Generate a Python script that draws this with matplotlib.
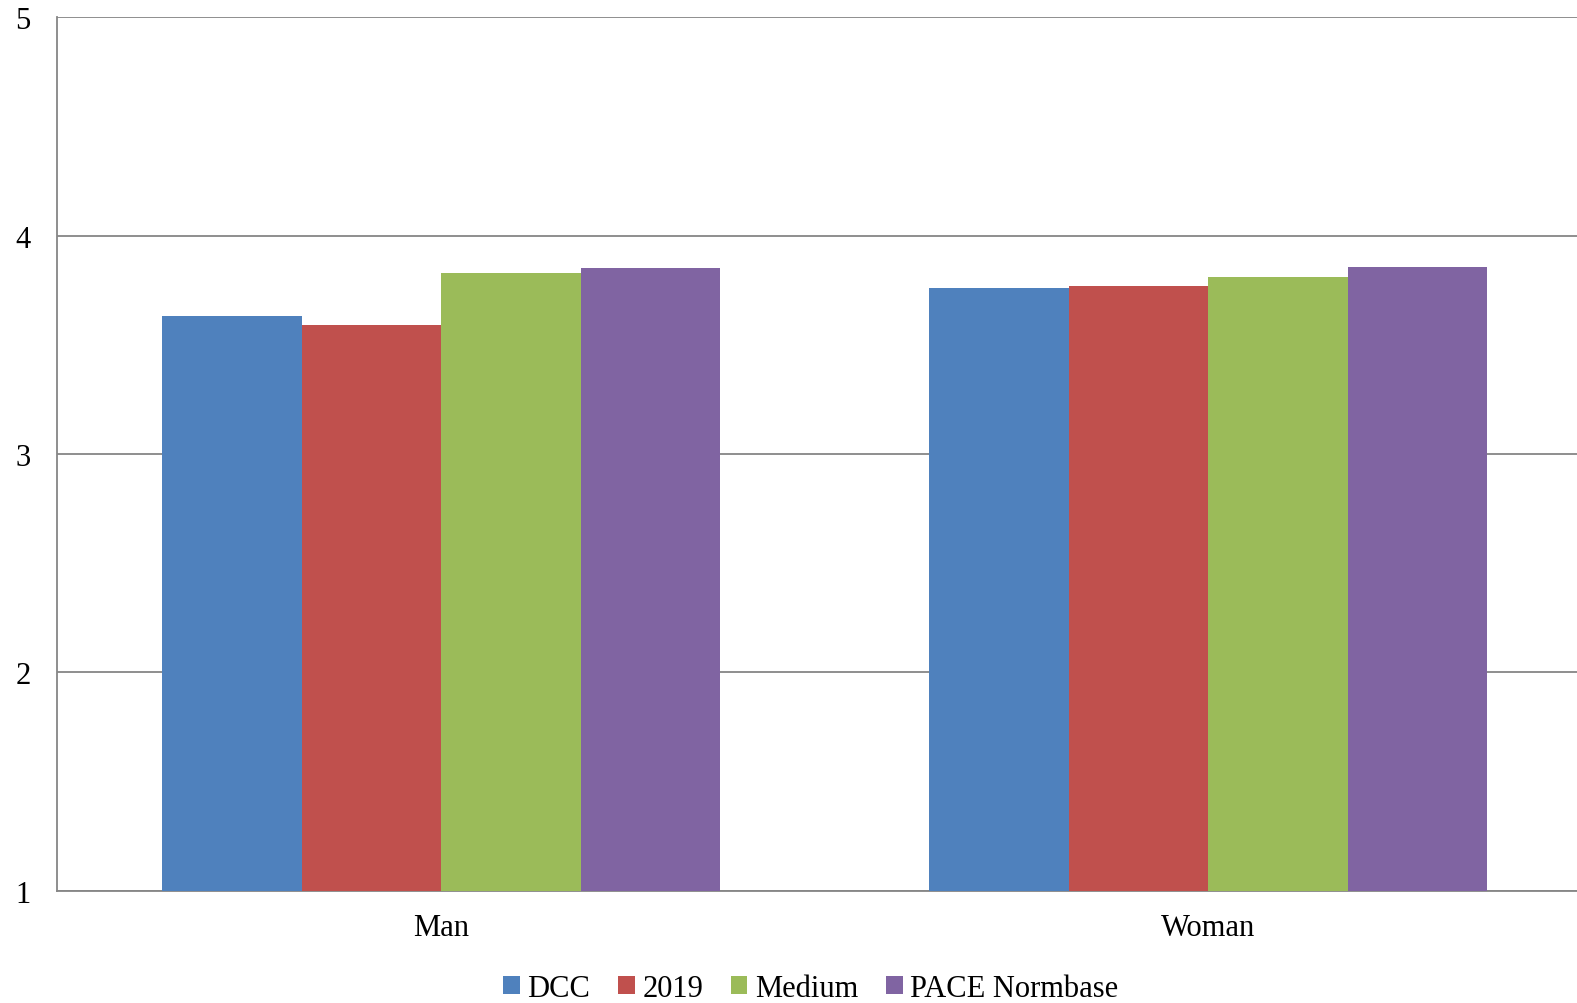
import numpy as np
import matplotlib.pyplot as plt

plt.rcParams['font.family'] = ['Liberation Serif', 'DejaVu Serif']

categories = ['Man', 'Woman']
series = ['DCC', '2019', 'Medium', 'PACE Normbase']
dcc = [3.63, 3.76]
y2019 = [3.59, 3.77]
medium = [3.83, 3.81]
pace = [3.85, 3.855]
colors = ['#4F81BD', '#C0504D', '#9BBB59', '#8064A2']

fig = plt.figure(figsize=(15.77, 10.04), dpi=100)
ax = fig.add_axes([0.0361, 0.1116, 0.9639, 0.8704])

x = np.arange(len(categories))
width = 0.182
for i, (name, vals) in enumerate(zip(series, [dcc, y2019, medium, pace])):
    ax.bar(x + (i - 1.5) * width, vals, width, bottom=0, color=colors[i],
           label=name, zorder=3)

ax.set_ylim(1, 5)
ax.set_xlim(-0.501, 1.481)
ax.set_yticks([1, 2, 3, 4, 5])
ax.set_xticks(x)
ax.set_xticklabels(categories)
ax.tick_params(axis='both', length=0, labelsize=22)
ax.tick_params(axis='y', pad=19)
ax.tick_params(axis='x', pad=16)
ax.yaxis.grid(True, color='#868686', linewidth=1.3, zorder=0)

for s in ['top', 'right']:
    ax.spines[s].set_visible(False)
for s in ['left', 'bottom']:
    ax.spines[s].set_color('#868686')
    ax.spines[s].set_linewidth(1.3)

fig.legend(loc='lower center', bbox_to_anchor=(0.514, -0.018), ncol=4, frameon=False,
           fontsize=22, handlelength=0.55, handleheight=0.55, handletextpad=0.25,
           columnspacing=0.9, borderpad=0.1)

fig.savefig('out.png', dpi=100)
